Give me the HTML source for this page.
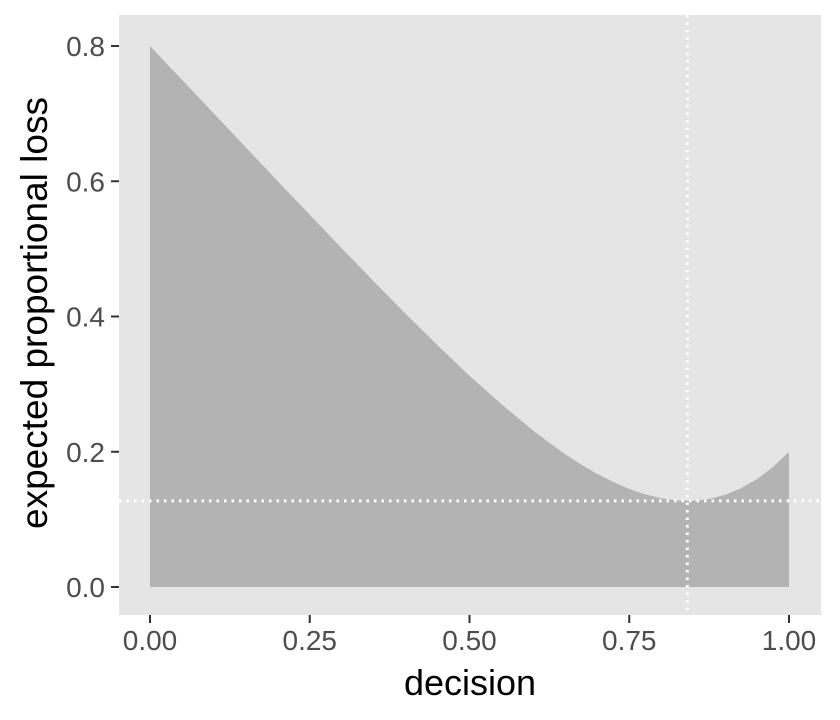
<!DOCTYPE html>
<html><head><meta charset="utf-8"><style>body{margin:0;background:#fff}svg{display:block}text{font-family:"Liberation Sans",sans-serif}</style></head>
<body>
<svg width="840" height="720" xmlns="http://www.w3.org/2000/svg">
<rect x="119" y="15" width="702" height="600" fill="#e5e5e5"/>
<path fill="#b3b3b3" d="M150,587 L150,46 L181.95,79.8 L213.9,113.6 L245.85,147.4 L277.8,181.2 L309.75,214.8 L341.7,248.2 L373.65,281.3 L405.6,313.7 L437.55,345.3 L469.5,375.7 L501.45,404.3 L533.4,430.7 L549.4,442.9 L565.35,454.2 L581.3,464.6 L597.3,473.9 L613.3,482.0 L629.25,489.0 L645.2,494.4 L661.2,498.3 L677.2,500.5 L693.15,500.8 L709.1,499.0 L725.1,494.9 L741.1,488.1 L757.05,479.1 L773,467.0 L789,451.7 L789,587 Z"/>
<line x1="119" x2="821" y1="500.9" y2="500.9" stroke="#fff" stroke-width="3" stroke-dasharray="2.5,5"/>
<line x1="687.3" x2="687.3" y1="15" y2="615" stroke="#fff" stroke-width="3" stroke-dasharray="2.5,5"/>
<g stroke="#333" stroke-width="2">
<line x1="111" x2="119" y1="587" y2="587"/><line x1="111" x2="119" y1="451.75" y2="451.75"/><line x1="111" x2="119" y1="316.5" y2="316.5"/><line x1="111" x2="119" y1="181.25" y2="181.25"/><line x1="111" x2="119" y1="46" y2="46"/>
<line y1="615" y2="623" x1="150" x2="150"/><line y1="615" y2="623" x1="309.75" x2="309.75"/><line y1="615" y2="623" x1="469.5" x2="469.5"/><line y1="615" y2="623" x1="629.25" x2="629.25"/><line y1="615" y2="623" x1="789" x2="789"/>
</g>
<g fill="#4d4d4d" style="font-size:28px" text-anchor="end">
<text x="105" y="597">0.0</text><text x="105" y="461.75">0.2</text><text x="105" y="326.5">0.4</text><text x="105" y="191.25">0.6</text><text x="105" y="56">0.8</text>
</g>
<g fill="#4d4d4d" style="font-size:28px" text-anchor="middle">
<text x="150" y="650">0.00</text><text x="309.75" y="650">0.25</text><text x="469.5" y="650">0.50</text><text x="629.25" y="650">0.75</text><text x="789" y="650">1.00</text>
</g>
<text x="470" y="695" style="font-size:36px" text-anchor="middle" fill="#000">decision</text>
<text transform="translate(47,313) rotate(-90)" style="font-size:37px" text-anchor="middle" fill="#000">expected proportional loss</text>
</svg>
</body></html>
